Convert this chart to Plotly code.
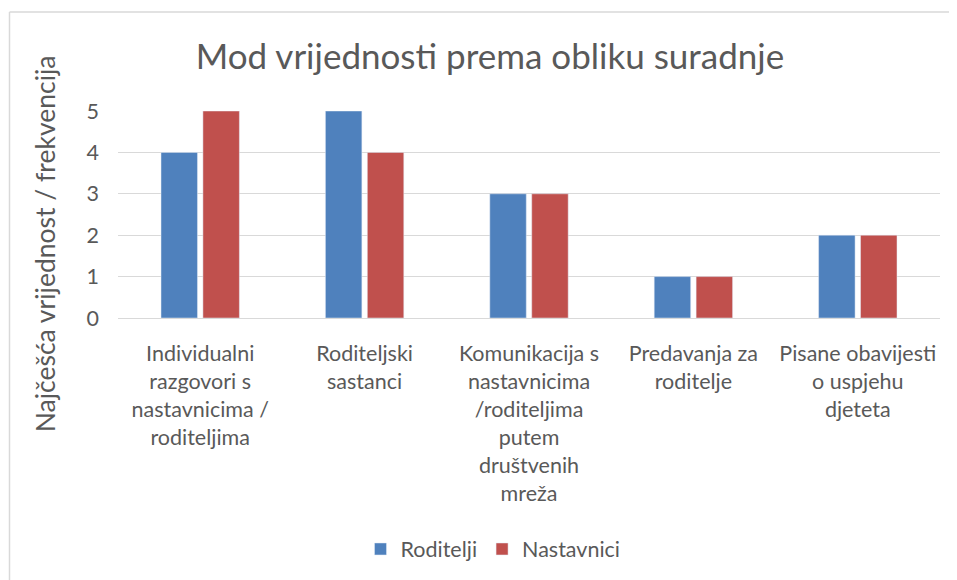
import plotly.graph_objects as go

categories = [
    "Individualni<br>razgovori s<br>nastavnicima /<br>roditeljima",
    "Roditeljski<br>sastanci",
    "Komunikacija s<br>nastavnicima<br>/roditeljima<br>putem<br>društvenih<br>mreža",
    "Predavanja za<br>roditelje",
    "Pisane obavijesti<br>o uspjehu<br>djeteta",
]
roditelji = [4, 5, 3, 1, 2]
nastavnici = [5, 4, 3, 1, 2]
y_ticks = [0, 1, 2, 3, 4, 5]

FONT = "Lato"
TXT = "#595959"

fig = go.Figure()
fig.add_trace(go.Bar(name="Roditelji", x=categories, y=roditelji, marker_color="#4F81BD"))
fig.add_trace(go.Bar(name="Nastavnici", x=categories, y=nastavnici, marker_color="#C0504D"))

OFF = 8  # page body margin
W, H = 957 - OFF, 580 - OFF
ml, mr, mt, mb = 118 - OFF, 17, 111 - OFF, 261
pw = W - ml - mr
ph = H - mt - mb

def px_x(p):
    return (p - OFF - ml) / pw

def px_y(p):
    return (H - mb - (p - OFF)) / ph

# chart frame: top and left edges
fig.add_shape(type="line", xref="paper", yref="paper",
              x0=px_x(9.5), x1=px_x(1200), y0=px_y(11.5), y1=px_y(11.5),
              line=dict(color="#D9D9D9", width=1.5), layer="below")
fig.add_shape(type="line", xref="paper", yref="paper",
              x0=px_x(9.5), x1=px_x(9.5), y0=px_y(11.5), y1=px_y(800),
              line=dict(color="#D9D9D9", width=1.5), layer="below")

fig.add_annotation(text="Najčešća vrijednost / frekvencija", xref="paper", yref="paper",
                   x=px_x(45), y=px_y(245), xanchor="center", yanchor="middle",
                   textangle=-90, showarrow=False, font=dict(size=26.5, color=TXT, family=FONT))

fig.update_layout(
    width=W, height=H,
    margin=dict(l=ml, r=mr, t=mt, b=mb),
    paper_bgcolor="white", plot_bgcolor="white",
    barmode="group", bargap=0.49, bargroupgap=0.13,
    font=dict(family=FONT, color=TXT),
    title=dict(text="Mod vrijednosti prema obliku suradnje", x=(490 - OFF) / W, xanchor="center",
               y=1 - (57 - OFF) / H, yanchor="middle", xref="container", yref="container",
               font=dict(size=35, color=TXT, family=FONT)),
    xaxis=dict(tickfont=dict(size=21.5, color=TXT), showline=True, linecolor="#D9D9D9",
               linewidth=1, ticks="", tickangle=0, automargin=False, ticklabelstandoff=16),
    yaxis=dict(range=[0, 5], tickvals=y_ticks, tickfont=dict(size=21.5, color=TXT),
               showgrid=True, gridcolor="#D9D9D9", gridwidth=1, zeroline=False,
               ticks="", ticklabelstandoff=18, automargin=False),
    legend=dict(orientation="h", x=px_x(493), xanchor="center", y=px_y(549), yanchor="middle",
                font=dict(size=21.5, color=TXT), itemwidth=30, traceorder="normal"),
    showlegend=True,
)
fig.update_xaxes(range=[-0.5, 4.5])

fig.write_html("out.html")
